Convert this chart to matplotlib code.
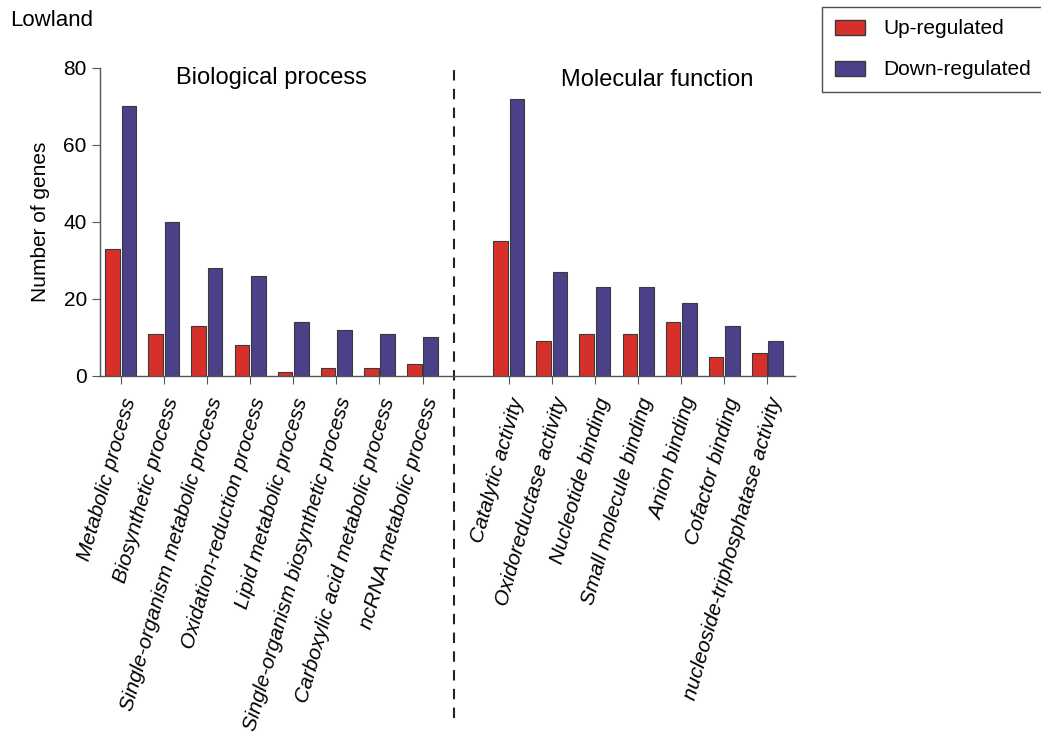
import matplotlib.pyplot as plt
import numpy as np
from matplotlib.patches import Patch

plt.rcParams['font.family'] = ['Liberation Sans', 'DejaVu Sans']

bp_terms = ["Metabolic process", "Biosynthetic process",
            "Single-organism metabolic process", "Oxidation-reduction process",
            "Lipid metabolic process", "Single-organism biosynthetic process",
            "Carboxylic acid metabolic process", "ncRNA metabolic process"]
bp_up = [33, 11, 13, 8, 1, 2, 2, 3]
bp_down = [70, 40, 28, 26, 14, 12, 11, 10]

mf_terms = ["Catalytic activity", "Oxidoreductase activity", "Nucleotide binding",
            "Small molecule binding", "Anion binding", "Cofactor binding",
            "nucleoside-triphosphatase activity"]
mf_up = [35, 9, 11, 11, 14, 5, 6]
mf_down = [72, 27, 23, 23, 19, 13, 9]

red = '#d7302b'
blue = '#4b4189'
edge = '#3a3a3a'

# one empty slot between the two GO groups
x_bp = np.arange(len(bp_terms))
x_mf = np.arange(len(mf_terms)) + len(bp_terms) + 1
x = np.concatenate([x_bp, x_mf])
up = bp_up + mf_up
down = bp_down + mf_down
labels = bp_terms + mf_terms

fig = plt.figure(figsize=(10.41, 7.42), dpi=100)
ax = fig.add_axes([0.0961, 0.4933, 0.6676, 0.4151])

w = 0.34
ax.bar(x - 0.19, up, width=w, color=red, edgecolor=edge, linewidth=0.8)
ax.bar(x + 0.19, down, width=w, color=blue, edgecolor=edge, linewidth=0.8)

ax.set_xlim(-0.48, 15.64)
ax.set_ylim(0, 80)
ax.set_yticks([0, 20, 40, 60, 80])
ax.set_xticks(x)
ax.set_xticklabels(labels, rotation=74, ha='right', va='top',
                   rotation_mode='anchor', style='italic', fontsize=15)
ax.tick_params(axis='y', labelsize=15, length=6, color='#555555')
ax.tick_params(axis='x', length=6, color='#555555', pad=8)
for side in ['top', 'right']:
    ax.spines[side].set_visible(False)
for side in ['left', 'bottom']:
    ax.spines[side].set_color('#555555')
    ax.spines[side].set_linewidth(1.0)

ax.set_ylabel("Number of genes", fontsize=15, labelpad=10)

# dashed divider between the groups
ax.plot([7.73, 7.73], [-1.11, 1.02], color='#222222', linestyle=(0, (5, 4)),
        linewidth=1.5, transform=ax.get_xaxis_transform(), clip_on=False)

ax.text(3.5, 77.5, "Biological process", ha='center', va='center', fontsize=17)
ax.text(12.45, 77, "Molecular function", ha='center', va='center', fontsize=17)

fig.text(10 / 1041, 1 - 20 / 742, "Lowland", ha='left', va='center', fontsize=16)

handles = [Patch(facecolor=red, edgecolor=edge, label='Up-regulated'),
           Patch(facecolor=blue, edgecolor=edge, label='Down-regulated')]
leg = fig.legend(handles=handles, loc='upper left',
                 bbox_to_anchor=(822 / 1041, 1 - 7 / 742), fontsize=15,
                 frameon=True, fancybox=False, edgecolor='#222222',
                 handlelength=1.45, handleheight=0.72, labelspacing=1.05,
                 borderpad=0.6, handletextpad=0.9, borderaxespad=0)
leg.get_frame().set_linewidth(1.0)

fig.savefig("out.png", dpi=100, facecolor='white')
